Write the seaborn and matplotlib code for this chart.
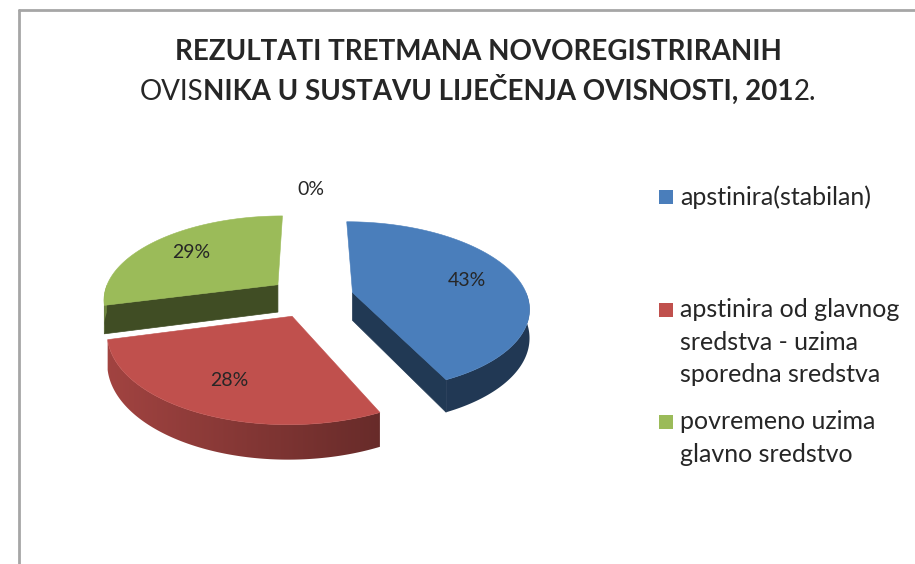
import numpy as np
import matplotlib
matplotlib.use("Agg")
import matplotlib.pyplot as plt
import seaborn as sns
from matplotlib.patches import Polygon, Rectangle
from matplotlib.lines import Line2D

# ---------------------------------------------------------
# Data
# ---------------------------------------------------------
categories = ["apstinira(stabilan)",
              "apstinira od glavnog\nsredstva - uzima\nsporedna sredstva",
              "povremeno uzima\nglavno sredstvo",
              ""]
shares = [43, 28, 29, 0]
labels = ["43%", "28%", "29%", "0%"]
title_line1 = "REZULTATI TRETMANA NOVOREGISTRIRANIH"
title_line2 = [("OVIS", "normal"),
               ("NIKA U SUSTAVU LIJEČENJA OVISNOSTI, 201", "bold"),
               ("2.", "normal")]

sns.set_theme(style="white")
plt.rcParams['font.family'] = ['Lato', 'DejaVu Sans']
palette = sns.color_palette(["#4a7ebb", "#c0504d", "#9bbb59", "#8064a2"])

W, H = 915, 564
fig = plt.figure(figsize=(W / 100, H / 100), dpi=100)
fig.patch.set_facecolor("white")
ax = fig.add_axes([0, 0, 1, 1])
ax.axis("off")

# chart frame (cropped on the right and bottom)
for xs, ys in [([19, W], [10, 10]), ([19, 19], [10, H])]:
    ax.add_line(Line2D(xs, ys, color="#a6a6a6", lw=2))

# ---------------------------------------------------------
# 3D exploded pie, projected by hand
# ---------------------------------------------------------
cx, cy = 311, 297          # centre of the top plane
rx, ry = 175, 83.7         # projected radii
persp = 0.163              # perspective strength
depth = 28                 # thickness of the pie
explode = 0.245


def proj(u, v):
    s = 1.0 / (1.0 + persp * v)
    return cx + rx * u * s, cy - ry * v * s, s


def shade(rgb, f):
    return tuple(min(1, c * f) for c in rgb)


total = float(sum(shares))
start = 0.0
slices = []
for i, val in enumerate(shares):
    span = 360.0 * val / total
    a0, a1 = start, start + span
    mid = np.radians((a0 + a1) / 2)
    ou, ov = explode * np.sin(mid), explode * np.cos(mid)
    slices.append((i, a0, a1, ou, ov, mid))
    start = a1

z = 2
order = sorted(slices, key=lambda s: -(s[4] + 0.5 * np.cos(s[5])))
for i, a0, a1, ou, ov, mid in order:
    if a1 - a0 <= 0:
        continue
    col = palette[i]
    th = np.radians(np.linspace(a0, a1, 200))

    # cut faces
    for edge, sign in [(a0, -1), (a1, 1)]:
        n = np.radians(edge + sign * 90)
        if np.cos(n) < -1e-3:
            e = np.radians(edge)
            x0, y0, s0 = proj(ou, ov)
            x1, y1, s1 = proj(ou + np.sin(e), ov + np.cos(e))
            quad = [(x0, y0), (x1, y1), (x1, y1 + depth * s1), (x0, y0 + depth * s0)]
            fc = shade(col, 0.45 if i == 0 else 0.41)
            ax.add_patch(Polygon(quad, closed=True, fc=fc, ec=fc, lw=0.5, zorder=z))
            z += 1

    # outer wall with a left-to-right gradient
    vis = th[np.cos(th) <= 0]
    if len(vis) > 1:
        top = [proj(ou + np.sin(t), ov + np.cos(t)) for t in vis]
        poly = [(p[0], p[1]) for p in top] + [(p[0], p[1] + depth * p[2]) for p in top[::-1]]
        wall = Polygon(poly, closed=True, fc="none", ec="none", zorder=z)
        ax.add_patch(wall)
        xs = np.array([p[0] for p in poly])
        ys = np.array([p[1] for p in poly])
        xmin, xmax = xs.min(), xs.max()
        gx = np.linspace(0, 1, 64)
        if i == 0:
            f = np.full_like(gx, 0.45)
        else:
            f = 0.84 - 0.30 * gx
        grad = np.array([[shade(col, ff) for ff in f]] * 2)
        im = ax.imshow(grad, extent=(xmin - 1, xmax + 1, ys.max() + 1, ys.min() - 1),
                       origin="upper", aspect="auto", interpolation="bilinear", zorder=z)
        im.set_clip_path(wall)
        z += 1

    # top face
    pts = [proj(ou, ov)[:2]]
    for t in th:
        pts.append(proj(ou + np.sin(t), ov + np.cos(t))[:2])
    ax.add_patch(Polygon(pts, closed=True, fc=col, ec=col, lw=0.4, zorder=z))
    z += 1

# percentage labels
for i, a0, a1, ou, ov, mid in slices:
    r = 0.7 if shares[i] > 0 else 1.37
    lx, ly, _ = proj(ou + r * np.sin(mid), ov + r * np.cos(mid))
    ax.text(lx, ly, labels[i], ha="center", va="center", fontsize=14,
            color="#262626", zorder=50)

# ---------------------------------------------------------
# Legend
# ---------------------------------------------------------
leg_y = [197, 310, 422]
for i, y in enumerate(leg_y):
    ax.add_patch(Rectangle((659, y - 7), 14, 14, fc=palette[i], ec="none", zorder=50))
    ax.text(680, y - 12, categories[i], ha="left", va="top", fontsize=18,
            color="#262626", linespacing=1.5, zorder=50)

# ---------------------------------------------------------
# Title (mixed weights on the second line)
# ---------------------------------------------------------
ax.set_xlim(0, W)
ax.set_ylim(H, 0)
ax.text(478, 60, title_line1, ha="center", va="baseline", fontsize=20,
        fontweight="bold", color="#262626")
fig.canvas.draw()
renderer = fig.canvas.get_renderer()
pieces = []
for txt, wt in title_line2:
    t = ax.text(0, 100, txt, ha="left", va="baseline", fontsize=20,
                fontweight=wt, color="#262626")
    pieces.append(t)
widths = [p.get_window_extent(renderer).width for p in pieces]
x = 478 - sum(widths) / 2
for p, w in zip(pieces, widths):
    p.set_x(x)
    x += w

ax.set_xlim(0, W)
ax.set_ylim(H, 0)
fig.savefig("out.png", dpi=100, facecolor="white")
